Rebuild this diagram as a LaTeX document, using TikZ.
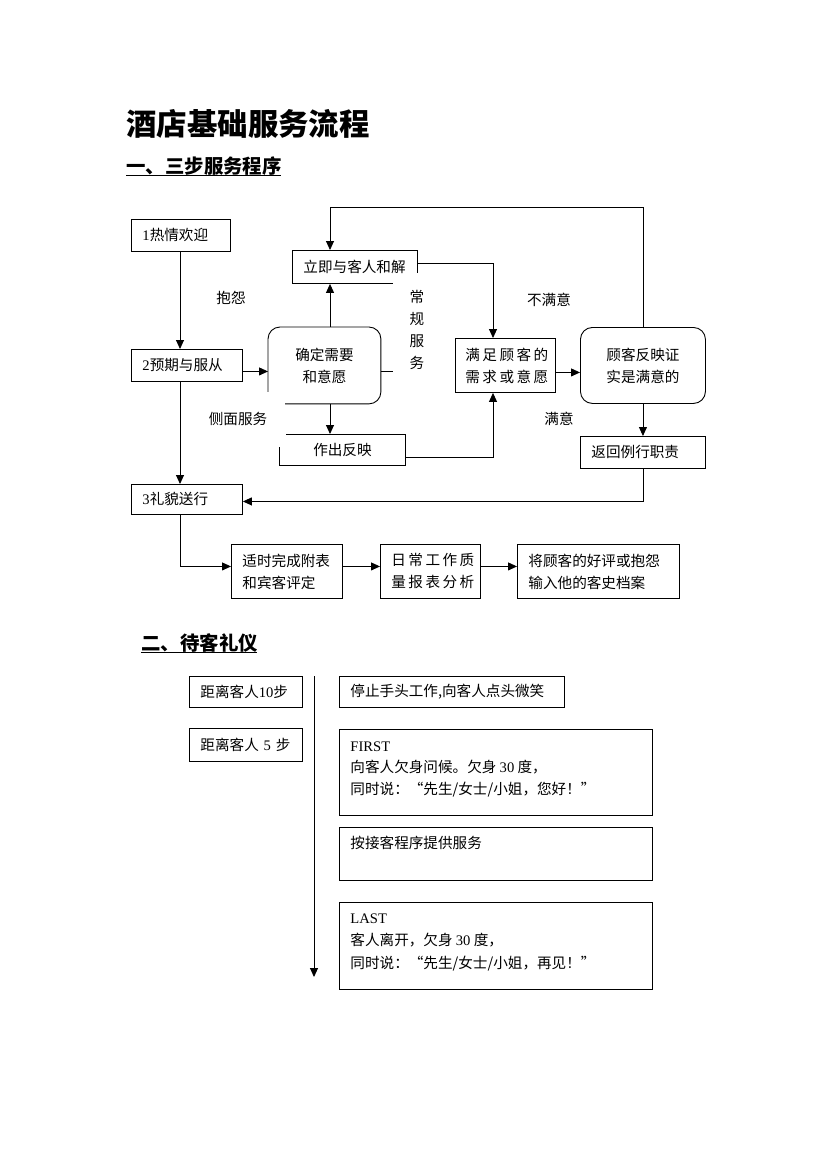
\documentclass[tikz,border=0pt]{standalone}
\usepackage{fontspec}
\setmainfont{Noto Sans CJK SC}
\newfontfamily\latf{Liberation Serif}
\newcommand\lt[1]{{\latf #1}}
\usetikzlibrary{arrows.meta,calc}
\begin{document}
\begin{tikzpicture}[x=1pt,y=-1pt,
  line width=0.9pt,
  txt/.style={font=\fontsize{14.6}{22}\selectfont, inner sep=0pt},
  bx/.style={txt, anchor=north west, inner xsep=11pt, inner ysep=0pt, align=left},
  dbx/.style={bx, draw},
  arr/.style={-{Triangle[length=9pt,width=8pt]}},
  lbl/.style={txt},
]
\path[use as bounding box] (0,0) rectangle (826,1169);

% titles
\node[anchor=west, inner sep=0pt, font=\fontsize{30.4}{34}\selectfont\bfseries] (title) at (126,124) {酒店基础服务流程};
\node[anchor=west, inner sep=0pt, font=\fontsize{19.4}{22}\selectfont\bfseries] (sec1) at (126,166) {一、三步服务程序};
\draw[line width=1pt] (126,176) -- (281,176);
\node[anchor=west, inner sep=0pt, font=\fontsize{19.4}{22}\selectfont\bfseries] (sec2) at (141,643) {二、待客礼仪};
\draw[line width=1pt] (141,652) -- (257,652);

% ---- part 1 boxes
\node[dbx, minimum width=99, minimum height=32, text width=77] (b1) at (131,219) {\lt{1}热情欢迎};
\node[dbx, minimum width=111, minimum height=32, text width=89] (b2) at (131,349) {\lt{2}预期与服从};
\node[dbx, minimum width=111, minimum height=30, text width=89] (b3) at (131,484) {\lt{3}礼貌送行};
\node[bx, minimum width=125, minimum height=33, text width=103] (hj) at (292,250) {立即与客人和解};
\draw ($(hj.south east)+(0,-11)$) -- (hj.north east) -- (hj.north west) -- (hj.south west) -- ($(hj.south east)+(-25,0)$);
\node[bx, minimum width=112, minimum height=76, text width=90, align=center] (qd) at (268,327) {确定需要\\和意愿};
\draw[rounded corners=12pt] ($(qd.south west)+(0,-12)$) -- (qd.north west) -- (qd.north east) -- (qd.south east) -- ($(qd.south west)+(17,0)$);
\node[bx, minimum width=126, minimum height=31, text width=104, align=center] (zc) at (279,434) {作出反映};
\draw ($(zc.north west)+(7,0)$) -- (zc.north east) -- (zc.south east) -- (zc.south west) -- ($(zc.north west)+(0,13)$);
\node[dbx, minimum width=100, minimum height=54, text width=80, inner xsep=10pt, align=center] (mz) at (455,338) {满\,足\,顾\,客\,的\\需\,求\,或\,意\,愿};
\node[dbx, rounded corners=12pt, minimum width=125, minimum height=76, text width=103, align=center] (gk) at (580,327) {顾客反映证\\实是满意的};
\node[dbx, minimum width=125, minimum height=32, text width=103] (fh) at (580,436) {返回例行职责};
\node[dbx, minimum width=111, minimum height=54, text width=89] (s1) at (231,544) {适时完成附表\\和宾客评定};
\node[dbx, minimum width=100, minimum height=54, text width=78] (s2) at (380,544) {日\,常\,工\,作\,质\\量\,报\,表\,分\,析};
\node[dbx, minimum width=162, minimum height=54, text width=140] (s3) at (517,544) {将顾客的好评或抱怨\\输入他的客史档案};

% labels
\node[lbl] (l1) at (231,298) {抱怨};
\node[lbl] (l2) at (238,419) {侧面服务};
\node[lbl] (l3) at (549,300) {不满意};
\node[lbl] (l4) at (559,419) {满意};
\node[txt, align=center, font=\fontsize{14.6}{22}\selectfont] (l5) at (417,330) {常\\规\\服\\务};

% connectors part 1
\coordinate (cx) at (180,0);
\draw[arr] (b1.south -| cx) -- (b2.north -| cx);
\draw[arr] (b2.south -| cx) -- (b3.north -| cx);
\draw[arr] ($(b2.east)+(0,6)$) coordinate (e2) -- (e2 -| qd.west);
\draw ($(qd.east)+(0,6)$) -- ++(12,0);
\coordinate (cq) at (330,0);
\draw[arr] (qd.north -| cq) -- (hj.south -| cq);
\draw[arr] (qd.south -| cq) -- (zc.north -| cq);
\coordinate (topy) at (0,207);
\draw[arr] (gk.north) -- (gk.north |- topy) -- (cq |- topy) -- (hj.north -| cq);
\coordinate (cm) at (493,0);
\draw[arr] ($(hj.north east)+(0,13)$) coordinate (h1) -- (h1 -| cm) -- (mz.north -| cm);
\draw[arr] ($(zc.east)+(0,7)$) coordinate (z1) -- (z1 -| cm) -- (mz.south -| cm);
\draw[arr] ($(mz.east)+(0,7)$) coordinate (m1) -- (m1 -| gk.west);
\draw[arr] (gk.south) -- (fh.north);
\draw[arr] (fh.south) -- ($(fh.south |- b3.east)+(0,2)$) coordinate (r1) -- (r1 -| b3.east);
\draw[arr] (b3.south -| cx) -- ($(cx |- s1.west)+(0,-5)$) coordinate (a1) -- (a1 -| s1.west);
\draw[arr] ($(s1.east)+(0,-5)$) coordinate (a2) -- (a2 -| s2.west);
\draw[arr] ($(s2.east)+(0,-5)$) coordinate (a3) -- (a3 -| s3.west);

% ---- part 2
\node[dbx, minimum width=113, minimum height=31, text width=91] (d10) at (189,676) {距离客人\lt{10}步};
\node[dbx, minimum width=113, minimum height=33, text width=91] (d5) at (189,728) {距离客人 \lt{5} 步};
\node[dbx, minimum width=225, minimum height=31, text width=203] (st) at (339,676) {停止手头工作,向客人点头微笑};
\node[draw, anchor=north west, minimum width=313, minimum height=86, inner sep=0pt] (f1) at (339,729) {};
\node[txt, anchor=north west, align=left, font=\fontsize{14.6}{21.5}\selectfont] (f1t) at ($(f1.north west)+(11,0)$) {\rule{0pt}{22pt}\lt{FIRST}\\向客人欠身问候。欠身 \lt{30} 度，\\同时说：“先生/女士/小姐，您好！”};
\node[draw, anchor=north west, minimum width=313, minimum height=53, inner sep=0pt] (f2) at (339,827) {};
\node[txt, anchor=north west, align=left] (f2t) at ($(f2.north west)+(11,0)$) {\rule{0pt}{21pt}按接客程序提供服务};
\node[draw, anchor=north west, minimum width=313, minimum height=87, inner sep=0pt] (f3) at (339,902) {};
\node[txt, anchor=north west, align=left, font=\fontsize{14.6}{22.5}\selectfont] (f3t) at ($(f3.north west)+(11,0)$) {\rule{0pt}{21pt}\lt{LAST}\\客人离开，欠身 \lt{30} 度，\\同时说：“先生/女士/小姐，再见！”};
\coordinate (vt) at (314,676);
\coordinate (vb) at (314,977);
\draw[arr] (vt) -- (vb);
\end{tikzpicture}
\end{document}
